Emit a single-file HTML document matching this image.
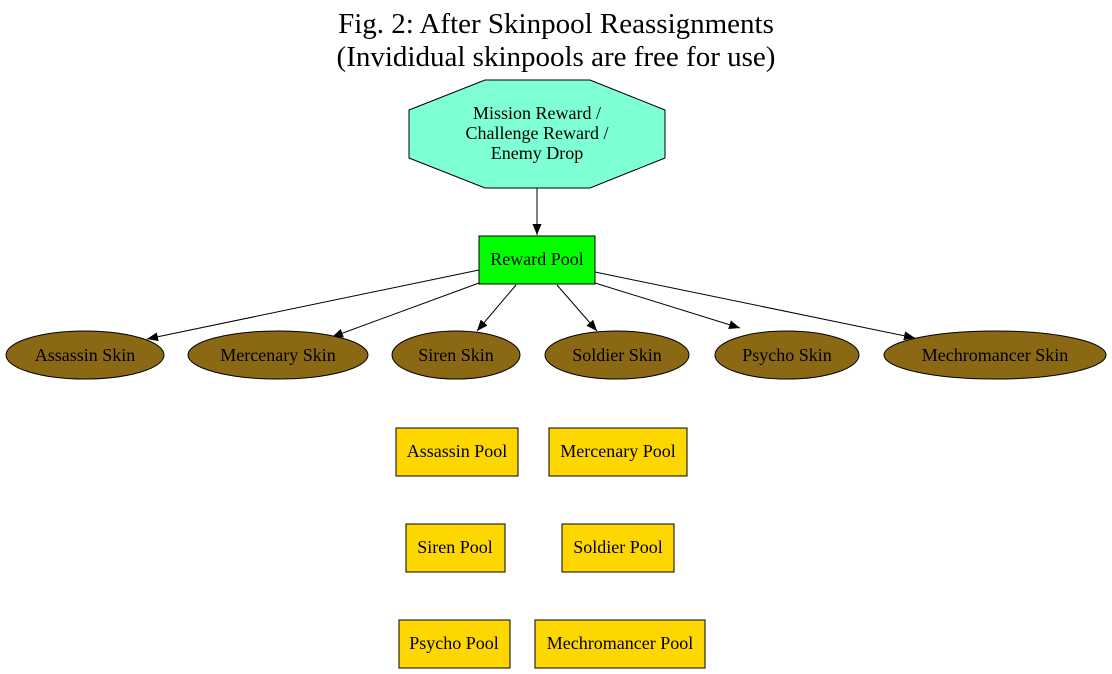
<!DOCTYPE html>
<html><head><meta charset="utf-8"><style>html,body{margin:0;padding:0;background:#fff}svg{display:block}</style></head>
<body>
<svg width="1112" height="674" viewBox="0 0 1112 674" xmlns="http://www.w3.org/2000/svg" font-family="Liberation Serif, serif">
<defs><marker id="a" markerWidth="11" markerHeight="9" refX="11" refY="4.5" orient="auto" markerUnits="userSpaceOnUse"><path d="M0,0 L11,4.5 L0,9 z" fill="#000"/></marker></defs>
<text x="556" y="33" font-size="29" text-anchor="middle">Fig. 2: After Skinpool Reassignments</text>
<text x="556" y="66" font-size="29" text-anchor="middle">(Invididual skinpools are free for use)</text>
<polygon points="485,80 590,80 665,110 665,158 590,188 485,188 409,158 409,110" fill="#7fffd4" stroke="#000"/>
<g font-size="18" text-anchor="middle">
<text x="537" y="119">Mission Reward /</text>
<text x="537" y="139">Challenge Reward /</text>
<text x="537" y="159">Enemy Drop</text>
</g>
<g stroke="#000" stroke-width="1" marker-end="url(#a)">
<line x1="537" y1="188" x2="537" y2="235"/>
<line x1="479" y1="270" x2="147" y2="339"/>
<line x1="479" y1="283" x2="332" y2="337"/>
<line x1="516" y1="285" x2="477" y2="331"/>
<line x1="557" y1="285" x2="597" y2="331"/>
<line x1="595" y1="283" x2="740" y2="328"/>
<line x1="595" y1="272" x2="915" y2="338"/>
</g>
<rect x="479" y="236" width="116" height="48" fill="#00ff00" stroke="#000"/>
<g fill="#8b6914" stroke="#000">
<ellipse cx="85" cy="355" rx="79" ry="24"/>
<ellipse cx="278" cy="355" rx="90" ry="24"/>
<ellipse cx="456" cy="355" rx="64" ry="24"/>
<ellipse cx="617" cy="355" rx="72" ry="24"/>
<ellipse cx="787" cy="355" rx="72" ry="24"/>
<ellipse cx="995" cy="355" rx="111" ry="24"/>
</g>
<g fill="#ffd700" stroke="#000">
<rect x="396" y="428" width="122" height="48"/>
<rect x="549" y="428" width="138" height="48"/>
<rect x="406" y="524" width="99" height="48"/>
<rect x="562" y="524" width="112" height="48"/>
<rect x="399" y="620" width="111" height="48"/>
<rect x="535" y="620" width="170" height="48"/>
</g>
<g font-size="18" text-anchor="middle">
<text x="537" y="265">Reward Pool</text>
<text x="85" y="361">Assassin Skin</text>
<text x="278" y="361">Mercenary Skin</text>
<text x="456" y="361">Siren Skin</text>
<text x="617" y="361">Soldier Skin</text>
<text x="787" y="361">Psycho Skin</text>
<text x="995" y="361">Mechromancer Skin</text>
<text x="457" y="457">Assassin Pool</text>
<text x="618" y="457">Mercenary Pool</text>
<text x="455" y="553">Siren Pool</text>
<text x="618" y="553">Soldier Pool</text>
<text x="454" y="649">Psycho Pool</text>
<text x="620" y="649">Mechromancer Pool</text>
</g>
</svg>
</body></html>
